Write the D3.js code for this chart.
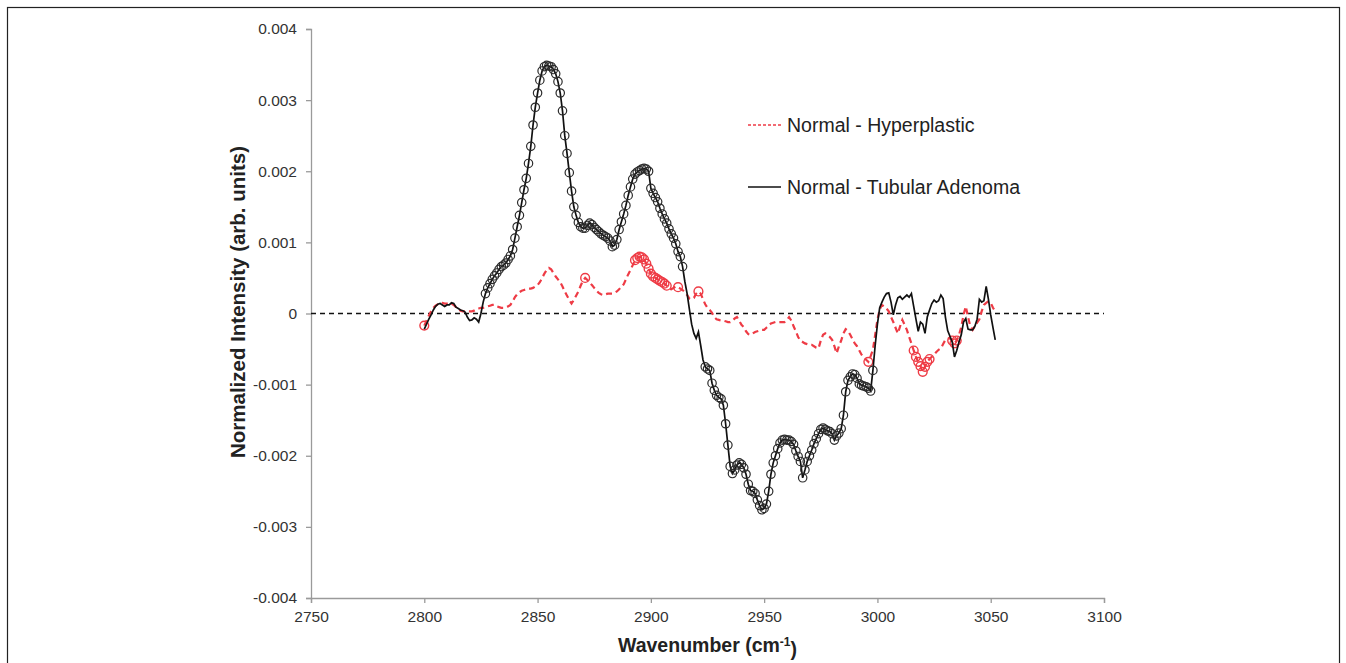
<!DOCTYPE html>
<html>
<head>
<meta charset="utf-8">
<script src="https://cdn.jsdelivr.net/npm/d3@7"></script>
<style>
  body { margin: 0; background: #fff; }
  svg { display: block; font-family: "Liberation Sans", Arial, sans-serif; }
</style>
</head>
<body>
<div id="chart"></div>
<script>
// sampling grid of the spectra (cm-1)
const wavenumber = d3.range(2800, 3053);

// values, in units of 1e-4 (arb. units)
const UNIT = 1e-4;

// Normal - Tubular Adenoma, 2800..3052
const tubular = [
  -2.2, -1.5, -0.8, -0.2, 0.5, 1.0, 1.3, 1.4, 1.2, 1.0,
  1.2, 1.2, 1.5, 1.4, 0.9, 0.7, 0.5, 0.4, 0.2, -0.5,
  -1.0, -0.9, -0.6, -0.8, -1.2, 0.0, 1.6, 2.8, 3.6, 4.2,
  4.8, 5.3, 5.7, 6.2, 6.6, 6.8, 7.1, 7.6, 8.1, 9.0,
  10.6, 12.2, 13.8, 15.6, 17.4, 19.0, 21.1, 23.5, 26.5, 29.0,
  31.0, 32.8, 34.1, 34.7, 34.9, 34.8, 34.7, 34.3, 33.7, 32.6,
  31.0, 28.5, 25.0, 22.5, 19.8, 17.2, 15.0, 13.8, 12.8, 12.2,
  12.0, 12.0, 12.4, 12.7, 12.5, 12.1, 11.8, 11.5, 11.2, 11.0,
  10.8, 10.6, 10.2, 9.4, 9.6, 10.4, 11.8, 12.9, 14.0, 15.2,
  16.6, 17.8, 18.9, 19.6, 19.9, 20.1, 20.3, 20.4, 20.3, 20.0,
  17.6, 16.9, 16.3, 15.7, 14.8, 14.0, 13.3, 12.7, 11.9, 11.2,
  10.6, 9.8, 8.7, 8.0, 6.6, 4.5, 2.8, 0.6, -1.5, -2.8,
  -3.5, -2.6, -4.5, -6.5, -7.5, -7.8, -8.0, -9.8, -10.8, -11.5,
  -11.8, -12.0, -12.9, -15.5, -18.5, -21.5, -22.5, -22.0, -21.3, -21.0,
  -21.2, -21.7, -22.6, -24.0, -24.9, -25.0, -25.3, -26.2, -27.0, -27.6,
  -27.4, -26.8, -25.0, -22.6, -21.0, -20.0, -19.0, -18.2, -17.8, -17.7,
  -17.8, -17.8, -18.0, -18.4, -19.3, -20.1, -20.8, -23.1, -22.0, -20.8,
  -20.0, -19.2, -18.3, -17.6, -16.9, -16.3, -16.1, -16.3, -16.5, -16.6,
  -16.9, -17.8, -17.2, -16.8, -16.2, -14.3, -11.0, -9.4, -8.9, -8.5,
  -8.6, -9.1, -9.9, -10.1, -10.2, -10.3, -10.5, -10.9, -8.0, -4.5,
  -1.5, 0.8, 1.6, 2.3, 2.8, 2.9, 1.6, -0.2, 1.2, 2.2,
  2.4, 2.0, 2.3, 2.6, 2.3, 2.8, 1.0, -0.8, -2.5, -1.2,
  -1.5, -2.8, -0.5, 0.5, 1.4, 1.9, 1.6, 1.8, 2.6, 2.1,
  -0.5, -2.4, -3.2, -4.0, -6.1, -5.2, -4.0, -3.0, -1.2, -0.7,
  -2.2, -2.3, -2.3, -1.8, -0.8, 2.0, 1.6, 1.8, 3.8, 2.0,
  -0.2, -2.0, -3.7
];

// Normal - Hyperplastic, 2800..3052
const hyperplastic = [
  -1.7, -1.0, -0.3, 0.3, 0.8, 1.1, 1.3, 1.4, 1.5, 1.4,
  1.4, 1.3, 1.4, 1.2, 0.9, 0.6, 0.4, 0.3, 0.3, 0.3,
  0.3, 0.3, 0.4, 0.6, 0.7, 0.8, 0.8, 0.9, 1.0, 1.1,
  1.2, 1.2, 1.0, 0.9, 0.8, 0.8, 0.9, 1.0, 1.2, 1.7,
  2.3, 2.7, 3.0, 3.2, 3.3, 3.4, 3.5, 3.5, 3.6, 3.8,
  4.0, 4.4, 5.0, 5.6, 6.1, 6.4, 6.2, 5.7, 5.2, 4.8,
  4.4, 3.8, 3.1, 2.5, 1.9, 1.4, 1.9, 2.5, 3.1, 3.9,
  4.6, 5.0, 4.7, 4.3, 4.0, 3.6, 3.2, 2.9, 2.7, 2.6,
  2.7, 2.8, 2.8, 2.8, 2.9, 3.1, 3.4, 3.8, 4.1, 4.8,
  5.5, 6.1, 6.8, 7.5, 7.8, 8.0, 7.9, 7.6, 7.0, 6.3,
  5.6, 5.2, 5.0, 4.8, 4.6, 4.4, 4.2, 3.9, 3.5, 3.4,
  3.6, 3.8, 3.7, 3.5, 3.3, 3.0, 2.6, 2.1, 2.0, 2.2,
  2.8, 3.1, 2.8, 2.0, 1.3, 0.8, 0.5, 0.1, -0.5, -0.8,
  -0.9, -1.0, -1.0, -1.1, -1.2, -1.2, -1.0, -0.7, -0.5, -1.0,
  -1.6, -1.9, -2.5, -2.9, -3.0, -2.8, -2.6, -2.5, -2.4, -2.3,
  -2.3, -2.0, -1.7, -1.4, -1.3, -1.2, -1.2, -1.2, -1.2, -1.2,
  -0.9, -0.5, -1.0, -1.8, -2.5, -3.3, -3.8, -4.0, -4.2, -4.3,
  -4.4, -4.4, -4.6, -4.8, -4.9, -3.8, -3.0, -2.8, -3.0, -3.3,
  -3.7, -4.6, -5.6, -4.6, -3.8, -2.8, -2.2, -2.4, -3.0, -3.6,
  -4.2, -4.6, -5.2, -5.8, -6.2, -6.5, -6.8, -6.0, -5.1, -3.0,
  -0.9, 0.6, 1.2, 1.0, 0.7, 0.3, -0.5, -1.2, -2.0, -2.8,
  -1.8, -0.9, -1.6, -2.3, -3.3, -4.2, -5.2, -6.1, -6.8, -7.4,
  -8.2, -7.5, -6.8, -6.4, -6.1, -5.8, -5.4, -5.1, -4.9, -4.3,
  -3.7, -3.5, -3.5, -3.8, -4.2, -3.8, -3.0, -1.9, -0.2, 1.0,
  -0.5, -1.8, -2.3, -1.8, -1.3, -0.8, 0.3, 1.2, 1.5, 1.7,
  1.5, 0.8, 0.3
];

// wavenumber ranges carrying a circle marker
const tubularMarked = [[2827, 2914], [2924, 2998]];
const hyperplasticMarked = [[2800, 2800], [2871, 2871], [2893, 2907], [2912, 2912],
  [2921, 2921], [2996, 2996], [3016, 3023], [3033, 3035]];

const xTicks = [2750, 2800, 2850, 2900, 2950, 3000, 3050, 3100];
const yTicks = [-0.004, -0.003, -0.002, -0.001, 0, 0.001, 0.002, 0.003, 0.004];
const legendLabels = ["Normal - Hyperplastic", "Normal - Tubular Adenoma"];

const width = 1346, height = 663;
const margin = {top: 29, right: 242, bottom: 65, left: 311};
const red = "#ee3b45";

const svg = d3.select("#chart").append("svg")
  .attr("width", width)
  .attr("height", height);

// outer frame
svg.append("rect")
  .attr("x", 7.5).attr("y", 7.5)
  .attr("width", 1332).attr("height", 700)
  .attr("fill", "none").attr("stroke", "#222").attr("stroke-width", 1.2);

const x = d3.scaleLinear().domain([2750, 3100]).range([margin.left, width - margin.right]);
const y = d3.scaleLinear().domain([-0.004, 0.004]).range([height - margin.bottom, margin.top]);

// plain hyphen for negatives, like the original
const fmt = d => d === 0 ? "0" : d3.format(".3f")(d).replace("\u2212", "-");

const xAxis = svg.append("g")
  .attr("transform", "translate(0," + (height - margin.bottom) + ")")
  .call(d3.axisBottom(x).tickValues(xTicks).tickFormat(d3.format("d")).tickSizeOuter(0).tickSize(5).tickPadding(8));

const yAxis = svg.append("g")
  .attr("transform", "translate(" + margin.left + ",0)")
  .call(d3.axisLeft(y).tickValues(yTicks).tickFormat(fmt).tickSizeOuter(0).tickSize(5).tickPadding(9));

[xAxis, yAxis].forEach(g => {
  g.select(".domain").attr("stroke", "#9a9a9a").attr("stroke-width", 1.3);
  g.selectAll(".tick line").attr("stroke", "#9a9a9a").attr("stroke-width", 1.3);
  g.selectAll(".tick text").attr("fill", "#333").style("font-size", "15.5px");
});

// zero reference line
svg.append("line")
  .attr("x1", x(2750)).attr("x2", x(3100))
  .attr("y1", y(0)).attr("y2", y(0))
  .attr("stroke", "#111").attr("stroke-width", 1.3)
  .attr("stroke-dasharray", "5,4");

const pts = vals => wavenumber.map((w, i) => ({w: w, v: vals[i] * UNIT}));
const inRanges = (w, ranges) => ranges.some(r => w >= r[0] && w <= r[1]);

const line = d3.line().x(d => x(d.w)).y(d => y(d.v));

const hyperPts = pts(hyperplastic);
const tubPts = pts(tubular);

// red dashed series
svg.append("path")
  .datum(hyperPts)
  .attr("d", line)
  .attr("fill", "none")
  .attr("stroke", red)
  .attr("stroke-width", 2.2)
  .attr("stroke-dasharray", "6,4");

svg.append("g")
  .selectAll("circle")
  .data(hyperPts.filter(d => inRanges(d.w, hyperplasticMarked)))
  .enter().append("circle")
  .attr("cx", d => x(d.w)).attr("cy", d => y(d.v))
  .attr("r", 4.4)
  .attr("fill", "none")
  .attr("stroke", red).attr("stroke-width", 1.4);

// black solid series
svg.append("path")
  .datum(tubPts)
  .attr("d", line)
  .attr("fill", "none")
  .attr("stroke", "#111")
  .attr("stroke-width", 1.7);

svg.append("g")
  .selectAll("circle")
  .data(tubPts.filter(d => inRanges(d.w, tubularMarked)))
  .enter().append("circle")
  .attr("cx", d => x(d.w)).attr("cy", d => y(d.v))
  .attr("r", 4.2)
  .attr("fill", "none")
  .attr("stroke", "#2a2a2a").attr("stroke-width", 1.2);

// legend
const legend = svg.append("g").attr("transform", "translate(748,125)");
legend.append("line")
  .attr("x1", 0).attr("x2", 33).attr("y1", 0).attr("y2", 0)
  .attr("stroke", red).attr("stroke-width", 1.5).attr("stroke-dasharray", "3,2");
legend.append("line")
  .attr("x1", 0).attr("x2", 33).attr("y1", 62).attr("y2", 62)
  .attr("stroke", "#111").attr("stroke-width", 1.6);
legend.selectAll("text")
  .data(legendLabels)
  .enter().append("text")
  .attr("x", 39).attr("y", (d, i) => i * 62)
  .attr("dy", "0.35em")
  .attr("fill", "#222")
  .style("font-size", "19.5px")
  .text(d => d);

// axis titles
svg.append("text")
  .attr("transform", "translate(238,302) rotate(-90)")
  .attr("dy", "0.35em")
  .attr("text-anchor", "middle")
  .attr("fill", "#222")
  .style("font-size", "20.5px").style("font-weight", "bold")
  .text("Normalized Intensity (arb. units)");

const xt = svg.append("text")
  .attr("x", (x(2750) + x(3100)) / 2).attr("y", 652)
  .attr("text-anchor", "middle")
  .attr("fill", "#222")
  .style("font-size", "19.5px").style("font-weight", "bold");
xt.append("tspan").text("Wavenumber (cm");
xt.append("tspan").attr("dy", "-0.5em").style("font-size", "12px").text("-1");
xt.append("tspan").attr("dy", "0.5em").text(")");
</script>
</body>
</html>
